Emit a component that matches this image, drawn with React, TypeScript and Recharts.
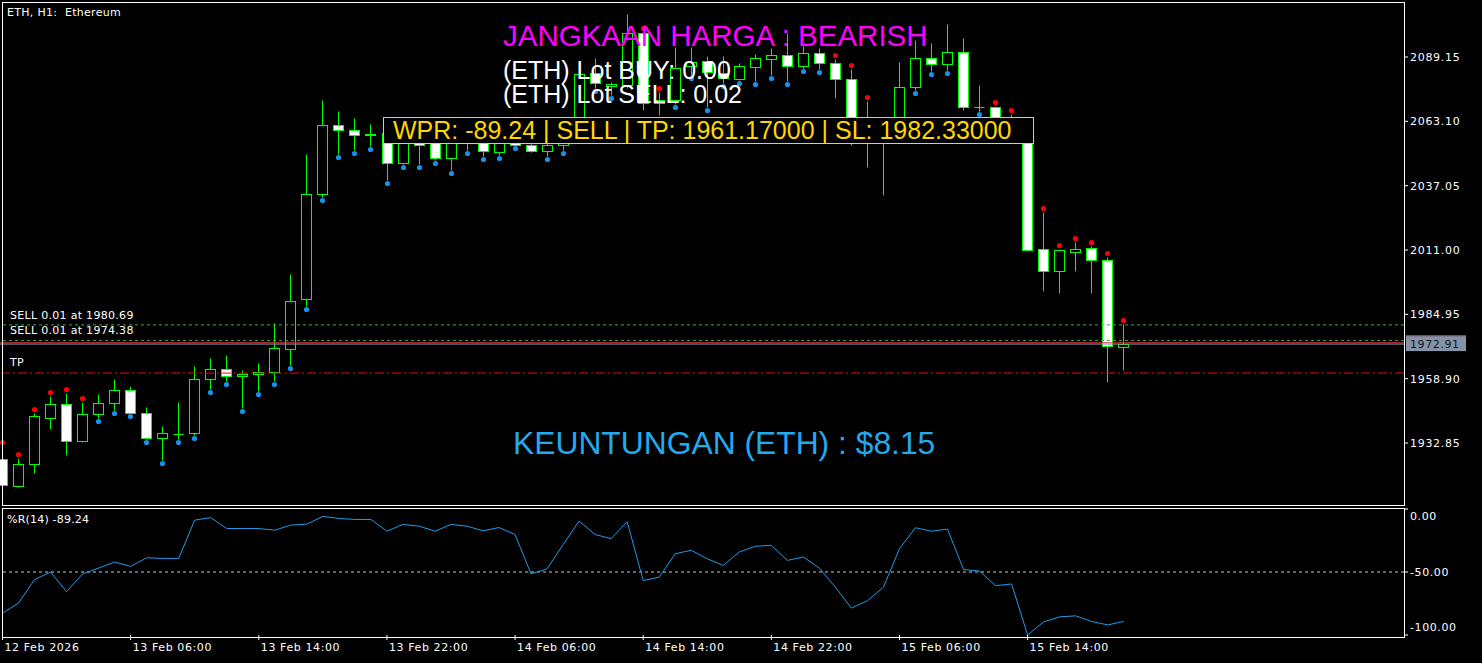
import { ComposedChart, Bar, Line, XAxis, YAxis, ReferenceLine } from "recharts"

// ETH H1 candles, 12 Feb 22:00 -> 15 Feb 20:00
const opens = [
  1926.38, 1915.45, 1924.36, 1942.98, 1948.65, 1933.67, 1944.6, 1949.06, 1954.32, 1945.01,
  1934.88, 1936.5, 1936.91, 1958.77, 1962.82, 1959.99, 1960.8, 1961.61, 1970.92, 1991.16,
  2033.68, 2061.62, 2059.59, 2057.57, 2058.38, 2046.23, 2055.95, 2055.54, 2048.26, 2055.95,
  2056.35, 2050.69, 2055.54, 2053.52, 2051.09, 2053.52, 2057.16, 2082.67, 2077.41, 2077.81,
  2098.87, 2070.53, 2071.74, 2085.51, 2087.53, 2082.67, 2080.24, 2085.1, 2088.34, 2089.96,
  2085.51, 2090.77, 2086.72, 2080.24, 2063.24, 2059.19, 2057.97, 2077.0, 2088.75, 2086.32,
  2091.18, 2068.91, 2068.91, 2060.4, 2061.21, 2011.41, 2002.5, 2010.2, 2011.81, 2006.96,
  1971.73,
]
const highs = [
  1931.64, 1926.79, 1945.01, 1951.89, 1953.1, 1949.46, 1952.7, 1958.77, 1955.94, 1947.44,
  1939.74, 1949.46, 1964.04, 1967.28, 1968.49, 1962.42, 1965.25, 1981.45, 2001.29, 2049.88,
  2071.74, 2067.29, 2064.45, 2062.02, 2059.59, 2059.59, 2058.78, 2057.57, 2056.76, 2057.16,
  2057.97, 2057.16, 2056.76, 2055.95, 2055.54, 2058.38, 2087.13, 2088.75, 2079.03, 2106.56,
  2099.27, 2074.98, 2093.2, 2093.2, 2089.56, 2089.56, 2086.72, 2090.37, 2092.79, 2098.87,
  2093.6, 2092.79, 2088.34, 2084.29, 2071.34, 2063.64, 2087.13, 2096.03, 2094.82, 2102.51,
  2096.84, 2077.81, 2069.31, 2066.07, 2062.02, 2026.39, 2011.41, 2014.24, 2012.62, 2008.17,
  1981.04,
]
const lows = [
  1915.04, 1915.04, 1920.71, 1938.53, 1928.0, 1933.4, 1942.98, 1946.22, 1945.01, 1934.48,
  1925.98, 1934.48, 1936.1, 1954.72, 1957.96, 1947.03, 1953.91, 1957.96, 1964.44, 1988.33,
  2032.46, 2049.88, 2051.49, 2053.11, 2039.35, 2046.0, 2045.83, 2047.45, 2043.4, 2051.49,
  2049.07, 2049.47, 2053.52, 2050.69, 2049.07, 2051.49, 2055.54, 2076.6, 2073.76, 2076.6,
  2067.69, 2065.67, 2070.12, 2081.86, 2068.91, 2078.62, 2079.84, 2079.43, 2081.86, 2079.43,
  2084.7, 2084.29, 2072.55, 2053.52, 2044.61, 2033.27, 2056.35, 2075.79, 2083.48, 2083.89,
  2067.69, 2067.29, 2058.78, 2058.78, 2011.0, 1994.4, 1993.59, 2002.5, 1993.59, 1957.56,
  1962.42,
]
const closes = [
  1915.85, 1924.36, 1943.79, 1948.65, 1933.67, 1944.6, 1949.06, 1954.32, 1945.01, 1934.88,
  1936.91, 1936.5, 1958.77, 1962.82, 1959.99, 1960.8, 1961.61, 1971.32, 1990.36, 2033.68,
  2061.62, 2059.59, 2057.57, 2057.97, 2046.23, 2055.14, 2053.52, 2048.26, 2055.95, 2055.54,
  2051.09, 2055.95, 2053.52, 2051.09, 2053.52, 2057.16, 2082.27, 2078.62, 2078.22, 2098.87,
  2070.53, 2071.74, 2084.7, 2087.13, 2083.08, 2080.65, 2085.51, 2088.75, 2089.96, 2085.51,
  2090.77, 2086.72, 2080.24, 2063.24, 2059.19, 2057.97, 2077.0, 2088.75, 2086.32, 2091.18,
  2068.91, 2068.91, 2060.4, 2061.21, 2011.0, 2002.5, 2011.0, 2011.41, 2006.96, 1972.13,
  1972.91,
]

// Williams %R(14)
const wpr = [
  -82.7, -74.7, -56, -50.1, -65.6, -51.5, -46.9, -42.1, -45.6, -38.7,
  -39.2, -39.2, -8.8, -6.9, -15.5, -15.5, -15.5, -16.8, -12.8, -12,
  -5.9, -7.5, -8.3, -8.3, -17.6, -12.3, -13.6, -17.6, -12.3, -13.6,
  -17.3, -14.7, -20.3, -51.5, -47.5, -28.3, -9.6, -20.3, -23.5, -10.1,
  -56.8, -54.1, -35.5, -32.8, -39.5, -44.8, -34.1, -29.6, -28.8, -40.8,
  -38.1, -46.9, -62.1, -78.7, -72.8, -62.1, -31.5, -14.9, -17.6, -16,
  -48, -49.3, -60.8, -59.5, -100, -89.6, -85.6, -84.8, -89.3, -92,
  -89.24,
]

// bars that carry a signal dot
const sellDots = [0, 1, 2, 3, 4, 5, 40, 41, 52, 53, 54, 62, 63, 65, 66, 67, 68, 69, 70]
const buyDots = [
  6, 7, 8, 9, 10, 11, 12, 13, 14, 15, 16, 17, 18, 19, 20, 21, 22, 23, 24, 25, 26, 27, 28, 29,
  30, 31, 32, 34, 35, 37, 38, 42, 43, 44, 45, 46, 47, 48, 49, 50, 51, 57, 58, 59, 61,
]

const timeTicks = [0, 8, 16, 24, 32, 40, 48, 56, 64]
const timeLabels = [
  "12 Feb 2026", "13 Feb 06:00", "13 Feb 14:00", "13 Feb 22:00", "14 Feb 06:00",
  "14 Feb 14:00", "14 Feb 22:00", "15 Feb 06:00", "15 Feb 14:00",
]
const priceTicks = [2089.15, 2063.1, 2037.05, 2011.0, 1984.95, 1958.9, 1932.85]
const wprTicks = [0, -50, -100]

const sellLevels = [1980.69, 1974.38]
const tpLevel = 1961.17
const slLevel = 1982.33
const askLevel = 1973.45
const lotBuy = 0.0
const lotSell = 0.02
const profit = 8.15

const SLOTS = 88 // visible hour slots incl. empty space on the right
const GREEN = "#00ff00"
const SMALL = "DejaVu Sans"
const BIG = "Liberation Sans, Arial, sans-serif"

const rows = Array.from({ length: SLOTS }, (_, i) =>
  i < opens.length
    ? {
        idx: i,
        o: opens[i],
        h: highs[i],
        l: lows[i],
        c: closes[i],
        w: wpr[i],
        sell: sellDots.includes(i),
        buy: buyDots.includes(i),
      }
    : { idx: i }
)

const lastClose = closes[closes.length - 1]
const lastWpr = wpr[wpr.length - 1]

function Candle(props: any) {
  const { x, y, width, height, payload } = props
  if (!payload || payload.h == null) return null
  const cx = Math.floor(x + width / 2) + 0.5
  const py = (v: number) => y + ((payload.h - v) / (payload.h - payload.l)) * height
  const top = Math.round(py(Math.max(payload.o, payload.c))) + 0.5
  const bot = Math.round(py(Math.min(payload.o, payload.c))) + 0.5
  const hi = Math.round(y) + 0.5
  const lo = Math.round(y + height) + 0.5
  const bull = payload.c > payload.o
  return (
    <g>
      <line x1={cx} x2={cx} y1={hi} y2={lo} stroke={GREEN} />
      {bot - top < 1 ? (
        <line x1={cx - 5} x2={cx + 5} y1={top} y2={top} stroke={GREEN} />
      ) : (
        <rect x={cx - 5} y={top} width={10} height={bot - top} fill={bull ? "#000" : "#fff"} stroke={GREEN} />
      )}
      {payload.sell && <circle cx={cx} cy={hi - 4} r={2.6} fill="#ff0000" />}
      {payload.buy && <circle cx={cx} cy={lo + 3} r={2.6} fill="#1591ea" />}
    </g>
  )
}

const LineTag = ({ viewBox, text, dy }: any) =>
  viewBox ? (
    <text x={10} y={viewBox.y + dy} fill="#fff" fontSize={11} fontFamily={SMALL} letterSpacing={0.3}>
      {text}
    </text>
  ) : null

const PriceTag = ({ viewBox }: any) => {
  if (!viewBox) return null
  const x = viewBox.x + viewBox.width + 2
  const y = viewBox.y
  return (
    <g>
      <rect x={x} y={y - 8} width={60} height={15} fill="#8494a6" />
      <line x1={x} x2={x + 60} y1={y - 8.5} y2={y - 8.5} stroke="#ff2020" />
      <text x={x + 4} y={y + 4} fill="#0d1424" fontSize={11} fontFamily={SMALL} letterSpacing={0.6}>
        {lastClose.toFixed(2)}
      </text>
    </g>
  )
}

const TimeTick = ({ x, y, payload }: any) => {
  const k = timeTicks.indexOf(payload.value)
  if (k < 0) return null
  return (
    <text x={x + 2} y={y + 9} fill="#fff" fontSize={11} fontFamily={SMALL} letterSpacing={0.6}>
      {timeLabels[k]}
    </text>
  )
}

const WprTick = ({ x, y, payload }: any) => {
  const shift = payload.value === 0 ? 7 : payload.value === -100 ? -8 : 0
  return (
    <text x={x} y={y + shift + 4} fill="#fff" fontSize={11} fontFamily={SMALL} letterSpacing={0.6}>
      {Number(payload.value).toFixed(2)}
    </text>
  )
}

export default function App() {
  return (
    <div
      style={{
        position: "absolute",
        left: 0,
        top: 0,
        width: 1482,
        height: 663,
        background: "#000",
        overflow: "hidden",
      }}
    >
      {/* price panel */}
      <div style={{ position: "absolute", left: 0, top: 0 }}>
        <ComposedChart width={1482} height={506} data={rows} margin={{ top: 2, right: 0, left: -5.5, bottom: 1 }}>
          <XAxis dataKey="idx" hide scale="band" />
          <YAxis
            orientation="right"
            width={78}
            domain={[1907.76, 2111.42]}
            allowDataOverflow
            ticks={priceTicks}
            interval={0}
            tickFormatter={(v: number) => v.toFixed(2)}
            axisLine={false}
            tickLine={{ stroke: "#fff" }}
            tickSize={4}
            tickMargin={2}
            tick={{ fill: "#fff", fontSize: 11, fontFamily: SMALL, letterSpacing: 0.7 } as any}
          />
          <ReferenceLine
            y={sellLevels[0]}
            stroke="#30b030"
            strokeDasharray="3 3"
            label={<LineTag text={`SELL 0.01 at ${sellLevels[0].toFixed(2)}`} dy={-6} />}
          />
          <ReferenceLine
            y={sellLevels[1]}
            stroke="#30b030"
            strokeDasharray="3 3"
            label={<LineTag text={`SELL 0.01 at ${sellLevels[1].toFixed(2)}`} dy={-6} />}
          />
          <ReferenceLine y={askLevel} stroke="#e03040" />
          <ReferenceLine y={lastClose} stroke="#8494a6" label={<PriceTag />} />
          <ReferenceLine
            y={tpLevel}
            stroke="#ff0000"
            strokeDasharray="9 3 2 3"
            label={<LineTag text="TP" dy={-7} />}
          />
          <Bar
            dataKey={(d: any) => (d.h == null ? undefined : [d.l, d.h])}
            shape={(p: any) => <Candle {...p} />}
            isAnimationActive={false}
          />
        </ComposedChart>
      </div>

      {/* %R panel */}
      <div style={{ position: "absolute", left: 0, top: 500 }}>
        <ComposedChart width={1482} height={163} data={rows} margin={{ top: 9, right: 0, left: -5.5, bottom: 0 }}>
          <XAxis
            dataKey="idx"
            scale="band"
            ticks={timeTicks}
            interval={0}
            height={28}
            axisLine={false}
            tickLine={{ stroke: "#fff" }}
            tickSize={5}
            tickMargin={2}
            tick={<TimeTick />}
          />
          <YAxis
            orientation="right"
            width={78}
            domain={[-100, 0]}
            ticks={wprTicks}
            interval={0}
            axisLine={false}
            tickLine={{ stroke: "#fff" }}
            tickSize={4}
            tickMargin={2}
            tick={<WprTick />}
          />
          <ReferenceLine y={-50} stroke="#c8c8c8" strokeDasharray="3 3" />
          <Line
            type="linear"
            dataKey="w"
            stroke="#1e9be8"
            strokeWidth={1}
            dot={false}
            isAnimationActive={false}
          />
        </ComposedChart>
      </div>

      {/* frames */}
      <div
        style={{
          position: "absolute",
          left: 2,
          top: 2,
          width: 1403,
          height: 504,
          border: "1px solid #fff",
          boxSizing: "border-box",
          pointerEvents: "none",
        }}
      />
      <div
        style={{
          position: "absolute",
          left: 2,
          top: 508,
          width: 1403,
          height: 130,
          border: "1px solid #fff",
          boxSizing: "border-box",
          pointerEvents: "none",
        }}
      />

      {/* panel captions */}
      <div style={{ position: "absolute", left: 7, top: 6, color: "#fff", font: `11px ${SMALL}`, whiteSpace: "pre", letterSpacing: 0.3 }}>
        {"ETH, H1:  Ethereum"}
      </div>
      <div style={{ position: "absolute", left: 7, top: 513, color: "#fff", font: `11px ${SMALL}`, whiteSpace: "pre", letterSpacing: 0.2 }}>
        {`%R(14) ${lastWpr.toFixed(2)}`}
      </div>

      {/* EA labels drawn over the chart */}
      <div style={{ position: "absolute", left: 503, top: 21, color: "#ff00ff", font: `29.5px ${BIG}`, lineHeight: 1, whiteSpace: "pre" }}>
        JANGKAAN HARGA : BEARISH
      </div>
      <div style={{ position: "absolute", left: 503, top: 58, color: "#fff", font: `25px ${BIG}`, lineHeight: 1, whiteSpace: "pre" }}>
        {`(ETH) Lot BUY: ${lotBuy.toFixed(2)}`}
      </div>
      <div style={{ position: "absolute", left: 503, top: 82, color: "#fff", font: `25px ${BIG}`, lineHeight: 1, whiteSpace: "pre" }}>
        {`(ETH) Lot SELL: ${lotSell.toFixed(2)}`}
      </div>
      <div
        style={{
          position: "absolute",
          left: 383,
          top: 117,
          width: 651,
          height: 27,
          boxSizing: "border-box",
          border: "1px solid #ffd700",
          background: "#000",
          color: "#ffd700",
          font: `25px ${BIG}`,
          lineHeight: "24px",
          paddingLeft: 9,
          whiteSpace: "pre",
        }}
      >
        {`WPR: ${lastWpr.toFixed(2)} | SELL | TP: ${tpLevel.toFixed(5)} | SL: ${slLevel.toFixed(5)}`}
      </div>
      <div style={{ position: "absolute", left: 513, top: 428, color: "#22aaee", font: `31.8px ${BIG}`, lineHeight: 1, whiteSpace: "pre" }}>
        {`KEUNTUNGAN (ETH) : $${profit.toFixed(2)}`}
      </div>
    </div>
  )
}
